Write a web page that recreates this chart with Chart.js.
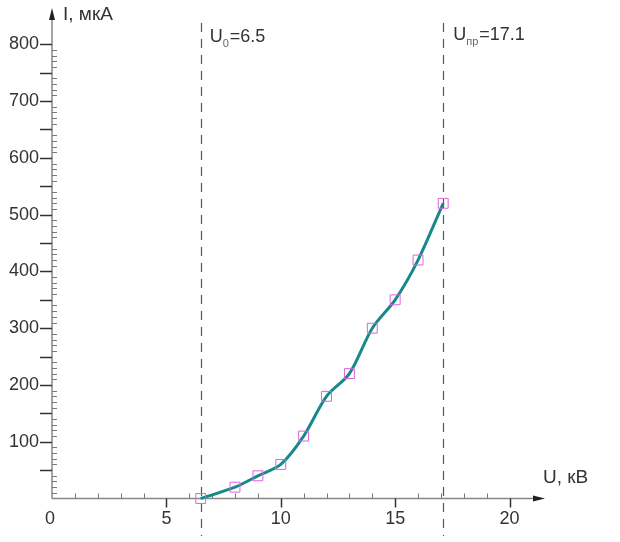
<!DOCTYPE html>
<html>
<head>
<meta charset="utf-8">
<script src="https://cdn.jsdelivr.net/npm/chart.js@4/dist/chart.umd.min.js"></script>
<style>
  html, body { margin: 0; padding: 0; background: #fff; }
  #wrap { width: 620px; height: 542px; }
</style>
</head>
<body>
<div id="wrap"><canvas id="c" width="620" height="542"></canvas></div>
<script>
// U, кВ and I, мкА
const voltage = [6.5, 8, 9, 10, 11, 12, 13, 14, 15, 16, 17.1];
const current = [0, 20, 40, 60, 110, 180, 220, 300, 350, 420, 520];

const xTicks = [0, 5, 10, 15, 20];
const yTicks = [100, 200, 300, 400, 500, 600, 700, 800];

const u0 = 6.5;
const uBreak = 17.1;

const FONT = '"Liberation Sans", Arial, sans-serif';

function subText(ctx, x, y, main, sub, rest) {
  ctx.textBaseline = 'middle';
  ctx.textAlign = 'left';
  ctx.font = '18px ' + FONT;
  ctx.fillText(main, x, y);
  let w = ctx.measureText(main).width;
  ctx.font = '11px ' + FONT;
  ctx.fillStyle = '#666';
  ctx.fillText(sub, x + w, y + 7);
  w += ctx.measureText(sub).width + 1;
  ctx.fillStyle = '#333';
  ctx.font = '18px ' + FONT;
  ctx.fillText(rest, x + w, y);
}

const axesPlugin = {
  id: 'axes',
  beforeDatasetsDraw(chart) {
    const ctx = chart.ctx;
    const xs = chart.scales.x, ys = chart.scales.y;
    const x0 = xs.getPixelForValue(0), y0 = ys.getPixelForValue(0);
    const xEnd = chart.chartArea.right, yEnd = chart.chartArea.top;
    ctx.save();

    // dashed markers
    ctx.strokeStyle = '#555';
    ctx.lineWidth = 1.2;
    ctx.setLineDash([9, 7]);
    [u0, uBreak].forEach(v => {
      const px = Math.round(xs.getPixelForValue(v)) + 0.5;
      ctx.beginPath();
      ctx.moveTo(px, 23);
      ctx.lineTo(px, 536);
      ctx.stroke();
    });
    ctx.setLineDash([]);

    // axis lines
    ctx.strokeStyle = '#888';
    ctx.lineWidth = 1.5;
    ctx.beginPath();
    ctx.moveTo(x0, y0);
    ctx.lineTo(xEnd - 4, y0);
    ctx.moveTo(x0, y0);
    ctx.lineTo(x0, yEnd + 4);
    ctx.stroke();

    ctx.fillStyle = '#222';
    ctx.beginPath();
    ctx.moveTo(xEnd, y0);
    ctx.lineTo(xEnd - 12, y0 - 3);
    ctx.lineTo(xEnd - 12, y0 + 3);
    ctx.closePath();
    ctx.fill();
    ctx.beginPath();
    ctx.moveTo(x0, yEnd);
    ctx.lineTo(x0 - 3, yEnd + 12);
    ctx.lineTo(x0 + 3, yEnd + 12);
    ctx.closePath();
    ctx.fill();

    // x ticks
    for (let v = 1; v <= 20; v++) {
      const px = Math.round(xs.getPixelForValue(v)) + 0.5;
      ctx.beginPath();
      if (v % 5 === 0) {
        ctx.strokeStyle = '#333';
        ctx.lineWidth = 1.5;
        ctx.moveTo(px, y0);
        ctx.lineTo(px, y0 + 9);
      } else {
        ctx.strokeStyle = '#777';
        ctx.lineWidth = 1;
        ctx.moveTo(px, y0);
        ctx.lineTo(px, y0 - 5);
      }
      ctx.stroke();
    }

    // y ticks
    for (let v = 10; v <= 800; v += 10) {
      const py = Math.round(ys.getPixelForValue(v)) + 0.5;
      ctx.beginPath();
      if (v % 50 === 0) {
        ctx.strokeStyle = '#333';
        ctx.lineWidth = 1.5;
        ctx.moveTo(x0, py);
        ctx.lineTo(x0 - 12, py);
      } else {
        ctx.strokeStyle = '#777';
        ctx.lineWidth = 1;
        ctx.moveTo(x0, py);
        ctx.lineTo(x0 + 5, py);
      }
      ctx.stroke();
    }

    // tick labels
    ctx.fillStyle = '#333';
    ctx.font = '18px ' + FONT;
    ctx.textAlign = 'center';
    ctx.textBaseline = 'middle';
    xTicks.forEach(v => {
      ctx.fillText(String(v), xs.getPixelForValue(v) - (v === 0 ? 2 : 0), y0 + 21);
    });
    ctx.textAlign = 'right';
    yTicks.forEach(v => {
      ctx.fillText(String(v), x0 - 13, ys.getPixelForValue(v));
    });

    // axis titles
    ctx.textAlign = 'left';
    ctx.font = '19px ' + FONT;
    ctx.fillText('I, мкА', x0 + 11, 15);
    ctx.fillText('U, кВ', xEnd - 2, y0 - 21);

    // marker captions
    subText(ctx, xs.getPixelForValue(u0) + 9, 37, 'U', '0', '=6.5');
    subText(ctx, xs.getPixelForValue(uBreak) + 10, 35, 'U', 'пр', '=17.1');

    ctx.restore();
  }
};

new Chart(document.getElementById('c'), {
  type: 'scatter',
  data: {
    datasets: [{
      data: voltage.map((v, i) => ({ x: v, y: current[i] })),
      showLine: true,
      borderColor: '#17898a',
      borderWidth: 3,
      tension: 0.3,
      pointStyle: 'rect',
      pointRadius: 7,
      pointBorderColor: '#e060e0',
      pointBackgroundColor: 'rgba(0,0,0,0)',
      pointBorderWidth: 1,
      clip: false
    }]
  },
  options: {
    responsive: false,
    animation: false,
    layout: { padding: { left: 52, right: 75, top: 5, bottom: 43.5 } },
    plugins: { legend: { display: false }, tooltip: { enabled: false } },
    scales: {
      x: { type: 'linear', min: 0, max: 21.55, display: false },
      y: { type: 'linear', min: 0, max: 864, display: false }
    }
  },
  plugins: [axesPlugin]
});
</script>
</body>
</html>
